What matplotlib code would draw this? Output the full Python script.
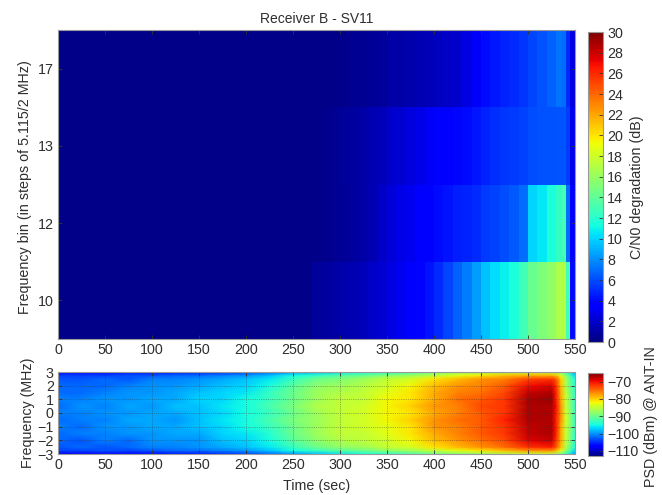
import numpy as np
import matplotlib
matplotlib.use("Agg")
import matplotlib.pyplot as plt

plt.rcParams['font.family'] = ['Liberation Sans', 'DejaVu Sans']

# C/N0 degradation (dB), left edges of time columns
cn0_time = [0,250,260,270,280,290,300,310,320,330,340,350,360,370,380,390,400,410,420,430,
            440,450,460,470,480,490,500,510,520,530,535,540,545,550]
cn0_bin10 = [.25,.25,.3,.8,.9,1.0,1.2,1.3,1.6,1.9,2.2,2.6,3.0,3.4,3.8,4.3,5.0,5.8,6.6,7.4,
             8.4,9.4,10.2,10.8,11.6,12.8,14.2,15.0,15.8,16.8,16.9,13.0,4.0]
cn0_bin12 = [.25,.25,.25,.3,.4,.5,.7,.9,1.1,1.4,1.9,2.4,2.7,3.0,3.4,3.7,4.1,4.3,4.6,4.8,
             5.0,5.4,5.7,6.0,6.4,7.0,10.0,10.6,11.6,12.4,13.0,7.0,3.5]
cn0_bin13 = [.25,.25,.25,.3,.4,.5,.8,.9,1.1,1.3,1.6,2.0,2.2,2.5,2.8,3.1,3.5,3.7,3.9,4.1,
             4.4,4.8,5.1,5.3,5.5,5.7,6.0,6.1,6.2,6.3,6.3,5.6,3.0]
cn0_bin17 = [.25,.25,.25,.25,.3,.3,.4,.5,.5,.6,.8,1.0,1.1,1.2,1.3,1.5,1.7,1.9,2.1,2.6,
             3.2,4.0,4.4,4.8,5.0,5.3,5.8,6.2,6.6,7.2,7.0,5.0,2.6]
bin_labels = ['10', '12', '13', '17']
cn0_ticks = list(range(0, 31, 2))

# PSD (dBm)
psd_time = [0,25,50,75,100,125,150,175,200,225,250,275,300,325,350,375,400,425,450,475,500,525,530,535,540,545,550]
psd_freq = [-3,-2.75,-2.5,-2,-1.5,-1,-.5,0,.5,1,1.5,2,2.5,2.75,3]
psd_values = [
 [-108,-108,-107,-107,-107,-106,-106,-105,-104,-102,-100,-98,-96,-95,-94,-92,-90,-89,-88,-86,-85,-85,-87,-90,-93,-96,-100],
 [-104,-104,-103,-104,-103,-102,-102,-101,-100,-98,-95,-93,-91,-90,-88,-87,-85,-83,-81,-79,-77,-77,-79,-83,-88,-92,-97],
 [-103,-102,-103,-102,-101,-101,-100,-99,-98,-96,-93,-90,-88,-87,-85,-84,-81,-79,-77,-75,-72,-71,-74,-79,-86,-90,-95],
 [-102,-103,-101,-102,-100,-100,-100,-98,-97,-95,-91,-88,-86,-85,-84,-82,-79,-77,-75,-73,-69,-68,-72,-78,-85,-89,-94],
 [-102,-101,-101,-100,-100,-99,-99,-97,-96,-94,-90,-87,-85,-85,-83,-81,-78,-76,-74,-72,-68,-67,-71,-78,-84,-89,-94],
 [-101,-102,-100,-100,-99,-99,-98,-97,-95,-93,-90,-87,-85,-84,-83,-81,-77,-76,-74,-72,-68,-67,-71,-78,-85,-88,-93],
 [-102,-101,-101,-99,-99,-100,-98,-96,-95,-92,-89,-87,-85,-84,-82,-80,-77,-75,-74,-71,-67,-67,-71,-77,-84,-88,-94],
 [-101,-101,-100,-100,-99,-99,-98,-97,-95,-93,-90,-87,-85,-84,-82,-81,-78,-76,-74,-72,-67,-67,-71,-77,-84,-88,-93],
 [-102,-100,-101,-99,-100,-98,-98,-96,-95,-92,-89,-86,-85,-84,-82,-80,-77,-76,-73,-72,-67,-67,-70,-77,-85,-88,-94],
 [-101,-101,-100,-100,-99,-99,-97,-97,-95,-93,-90,-87,-85,-85,-82,-81,-78,-75,-74,-72,-67,-66,-71,-78,-84,-89,-93],
 [-102,-102,-101,-100,-100,-99,-98,-97,-96,-93,-90,-87,-86,-85,-83,-81,-78,-76,-75,-73,-68,-67,-71,-78,-85,-89,-94],
 [-102,-102,-102,-101,-100,-100,-99,-98,-97,-95,-91,-88,-87,-86,-84,-82,-79,-77,-76,-74,-70,-69,-72,-79,-86,-90,-94],
 [-103,-103,-102,-103,-101,-101,-100,-99,-98,-96,-93,-90,-89,-87,-85,-84,-81,-79,-77,-76,-73,-72,-74,-80,-86,-91,-95],
 [-104,-104,-104,-103,-103,-102,-102,-101,-100,-98,-95,-93,-91,-90,-88,-87,-85,-83,-81,-79,-78,-78,-79,-83,-88,-92,-97],
 [-108,-107,-107,-106,-106,-106,-105,-105,-104,-102,-100,-98,-96,-95,-94,-92,-90,-88,-87,-86,-85,-85,-87,-90,-93,-96,-100],
]
psd_ticks = [-110, -100, -90, -80, -70]
time_ticks = list(range(0, 551, 50))
freq_ticks = [-3, -2, -1, 0, 1, 2, 3]

W, H = 662, 495
def box(x0, y0, x1, y1):
    return [x0 / W, 1 - y1 / H, (x1 - x0) / W, (y1 - y0) / H]

TXT = '#2e2e2e'
EDGE = '#999999'
FS = 10.3

def style(ax):
    for s in ax.spines.values():
        s.set_color(EDGE)
        s.set_linewidth(0.8)
    ax.tick_params(direction='in', length=3, width=0.6, color='#333333',
                   labelcolor=TXT, labelsize=FS, pad=3)

fig = plt.figure(figsize=(W / 100, H / 100), dpi=100)

ax1 = fig.add_axes(box(58, 30, 575, 339))
cn0 = np.array([cn0_bin10, cn0_bin12, cn0_bin13, cn0_bin17])
ypos = np.arange(len(bin_labels) + 1) + 0.5
m1 = ax1.pcolormesh(cn0_time, ypos, cn0, cmap='jet', vmin=0, vmax=30, shading='flat')
ax1.set_xlim(0, 550)
ax1.set_ylim(0.5, 4.5)
ax1.set_xticks(time_ticks)
ax1.set_yticks([1, 2, 3, 4])
ax1.set_yticklabels(bin_labels)
style(ax1)
ax1.tick_params(top=True, right=True)
ax1.set_title('Receiver B - SV11', fontsize=10, color=TXT, pad=5)
fig.text(25 / W, 1 - 187 / H, 'Frequency bin (in steps of 5.115/2 MHz)', rotation=90,
         ha='center', va='center', fontsize=FS, color=TXT)

cax1 = fig.add_axes(box(588, 32, 603, 342))
cb1 = fig.colorbar(m1, cax=cax1)
cb1.set_ticks(cn0_ticks)
style(cax1)
cb1.outline.set_edgecolor(EDGE)
fig.text(637 / W, 1 - 187 / H, 'C/N0 degradation (dB)', rotation=90,
         ha='center', va='center', fontsize=FS, color=TXT)

ax2 = fig.add_axes(box(58, 372, 575, 454))
m2 = ax2.pcolormesh(psd_time, psd_freq, np.array(psd_values), cmap='jet',
                    vmin=-113, vmax=-65, shading='gouraud')
ax2.set_xlim(0, 550)
ax2.set_ylim(-3, 3)
ax2.set_xticks(time_ticks)
ax2.set_yticks(freq_ticks)
ax2.grid(True, linestyle=':', color='#333333', linewidth=0.5, alpha=0.7)
style(ax2)
ax2.tick_params(top=True, right=True)
ax2.set_xlabel('Time (sec)', fontsize=FS, color=TXT, labelpad=5)
fig.text(28 / W, 1 - 413 / H, 'Frequency (MHz)', rotation=90,
         ha='center', va='center', fontsize=FS, color=TXT)

cax2 = fig.add_axes(box(588, 373, 603, 456))
cb2 = fig.colorbar(m2, cax=cax2)
cb2.set_ticks(psd_ticks)
style(cax2)
cb2.outline.set_edgecolor(EDGE)
fig.text(651 / W, 1 - 417 / H, 'PSD (dBm) @ ANT-IN', rotation=90,
         ha='center', va='center', fontsize=FS, color=TXT)

fig.savefig('out.png', dpi=100)
